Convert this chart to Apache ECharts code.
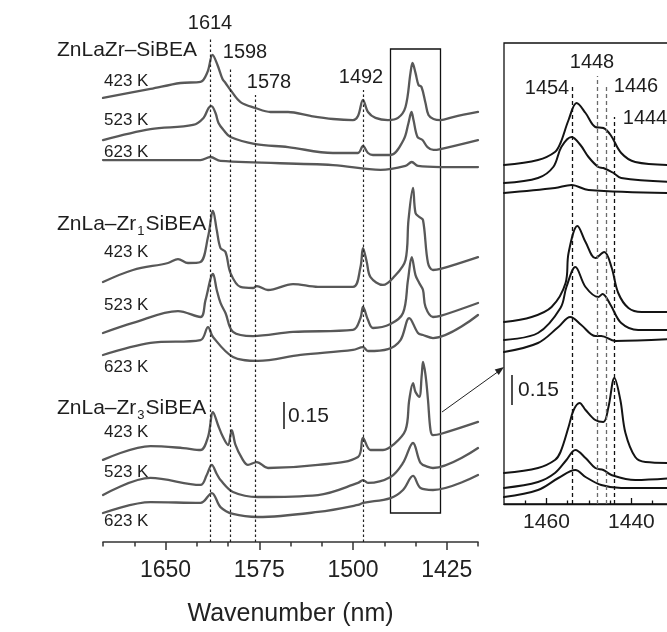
<!DOCTYPE html>
<html><head><meta charset="utf-8">
<script src="https://cdn.jsdelivr.net/npm/echarts@6/dist/echarts.min.js"></script>
<style>html,body{margin:0;padding:0;background:#fff}#c{width:667px;height:632px}</style>
</head><body><div id="c"></div>
<script>
// ---------- main panel spectra: [wavenumber, absorbance offset] ----------
const zlz423 = [[1700,2.467],[1662,2.517],[1638,2.55],[1622,2.556],[1616.4,2.611],[1612.4,2.706],[1608.4,2.65],[1604.4,2.572],[1602,2.55],[1598,2.511],[1590,2.444],[1578,2.411],[1566,2.389],[1552,2.389],[1534,2.367],[1516,2.35],[1500,2.344],[1496,2.367],[1492,2.456],[1488,2.389],[1482,2.356],[1472,2.344],[1464,2.356],[1458,2.417],[1454,2.606],[1452.4,2.661],[1450,2.606],[1447.6,2.539],[1445.2,2.528],[1442,2.439],[1439.6,2.372],[1435.6,2.35],[1430,2.344],[1420,2.361],[1400,2.389]];
const zlz523 = [[1700,2.233],[1662,2.294],[1628,2.317],[1619.6,2.356],[1615.6,2.411],[1613.2,2.422],[1610,2.383],[1607.6,2.328],[1603.6,2.289],[1598,2.25],[1578,2.211],[1552,2.194],[1516,2.161],[1496,2.161],[1492,2.2],[1488,2.161],[1484,2.15],[1470,2.15],[1459.6,2.233],[1455.6,2.328],[1453.2,2.389],[1451.6,2.344],[1448.4,2.25],[1444.4,2.233],[1440.4,2.194],[1435.6,2.178],[1430,2.183],[1400,2.233]];
const zlz623 = [[1700,2.122],[1622,2.122],[1614,2.139],[1606,2.117],[1516,2.094],[1478,2.067],[1458,2.089],[1453,2.111],[1448,2.089],[1430,2.083],[1400,2.083]];
const zl1_423 = [[1700,1.444],[1676,1.511],[1648,1.55],[1640,1.572],[1632,1.55],[1622,1.556],[1616,1.694],[1612,1.839],[1609,1.733],[1606,1.633],[1602,1.611],[1598,1.494],[1590,1.417],[1580,1.411],[1577,1.422],[1568,1.4],[1548,1.433],[1528,1.417],[1500,1.417],[1494,1.528],[1492,1.633],[1489,1.556],[1486,1.472],[1476,1.428],[1468,1.467],[1458,1.567],[1455.6,1.789],[1452,1.967],[1450,1.828],[1447,1.806],[1444,1.789],[1440,1.55],[1436,1.511],[1430,1.517],[1400,1.583]];
const zl1_523 = [[1700,1.161],[1676,1.217],[1640,1.283],[1622,1.25],[1618,1.344],[1612,1.489],[1609,1.4],[1606,1.328],[1602,1.272],[1596,1.167],[1580,1.144],[1548,1.167],[1500,1.178],[1494,1.244],[1492,1.306],[1488,1.233],[1484,1.189],[1470,1.211],[1460,1.272],[1456,1.456],[1453,1.583],[1450,1.483],[1447,1.439],[1444,1.4],[1442,1.306],[1436,1.25],[1430,1.256],[1400,1.328]];
const zl1_623 = [[1700,1.039],[1662,1.106],[1622,1.122],[1616,1.194],[1612,1.139],[1596,1.028],[1576,1.006],[1542,1.039],[1500,1.067],[1492,1.083],[1488,1.061],[1472,1.072],[1462,1.122],[1455,1.244],[1448,1.161],[1444,1.15],[1436,1.133],[1400,1.261]];
const zl3_423 = [[1700,0.456],[1662,0.533],[1636,0.522],[1622,0.511],[1616,0.583],[1612,0.722],[1608,0.65],[1604,0.583],[1600,0.539],[1597,0.622],[1594,0.539],[1589,0.467],[1584,0.428],[1577,0.444],[1568,0.411],[1528,0.428],[1496,0.472],[1492,0.578],[1486,0.511],[1476,0.511],[1468,0.539],[1458,0.622],[1455,0.789],[1452,0.883],[1450,0.833],[1447,0.806],[1445,0.928],[1444,1.0],[1442,0.928],[1440,0.789],[1438,0.622],[1436,0.594],[1430,0.6],[1400,0.667]];
const zl3_523 = [[1700,0.261],[1662,0.356],[1622,0.317],[1617,0.372],[1613,0.428],[1609,0.378],[1606,0.344],[1596,0.278],[1576,0.25],[1528,0.261],[1496,0.328],[1492,0.344],[1488,0.328],[1470,0.361],[1460,0.439],[1452,0.55],[1446,0.439],[1440,0.417],[1436,0.411],[1400,0.522]];
const zl3_623 = [[1700,0.161],[1662,0.222],[1622,0.217],[1613,0.272],[1606,0.194],[1596,0.156],[1576,0.139],[1528,0.167],[1496,0.206],[1492,0.217],[1470,0.244],[1460,0.289],[1452,0.367],[1446,0.3],[1436,0.289],[1400,0.372]];

// ---------- inset spectra (1470-1430 cm-1) ----------
const ins_zlz423 = [[1470,1.695],[1462,1.72],[1458,1.76],[1456.7,1.805],[1454.8,1.92],[1452.9,2.005],[1450.8,1.955],[1448.5,1.885],[1446.6,1.88],[1444.9,1.845],[1442.4,1.755],[1439.1,1.71],[1430,1.695]];
const ins_zlz523 = [[1470,1.605],[1462,1.63],[1458.4,1.685],[1456.5,1.785],[1454.1,1.835],[1452,1.795],[1450.1,1.735],[1447.8,1.685],[1446.6,1.68],[1444.2,1.655],[1442.4,1.63],[1430,1.61]];
const ins_zlz623 = [[1470,1.555],[1458,1.58],[1454.1,1.595],[1450.1,1.57],[1430,1.555]];
const ins_zl1_423 = [[1470,0.91],[1463.5,0.935],[1458.8,0.985],[1455.5,1.105],[1454.8,1.255],[1452.7,1.39],[1450.8,1.31],[1448.5,1.23],[1446.4,1.26],[1444.7,1.185],[1443.1,1.055],[1440.7,0.98],[1437.6,0.96],[1430,0.96]];
const ins_zl1_523 = [[1470,0.82],[1462,0.855],[1456.7,0.98],[1455.3,1.085],[1453.2,1.185],[1450.8,1.085],[1447.8,1.035],[1446.8,1.05],[1444.9,0.995],[1442.4,0.905],[1438.4,0.87],[1430,0.87]];
const ins_zl1_623 = [[1470,0.76],[1462,0.805],[1457.2,0.885],[1454.4,0.935],[1451.8,0.895],[1448.5,0.84],[1447.1,0.84],[1443.8,0.815],[1430,0.825]];
const ins_zl3_423 = [[1470,0.155],[1462,0.18],[1458,0.22],[1456.7,0.26],[1454.8,0.385],[1453.6,0.47],[1452.2,0.505],[1450.8,0.47],[1448.5,0.42],[1446.6,0.41],[1445.4,0.485],[1444,0.63],[1442.6,0.52],[1441.4,0.355],[1439.1,0.235],[1436.7,0.21],[1430,0.205]];
const ins_zl3_523 = [[1470,0.08],[1462,0.11],[1458,0.155],[1455.3,0.22],[1453.2,0.27],[1450.8,0.23],[1448.5,0.18],[1446.6,0.17],[1444.7,0.145],[1439.1,0.12],[1430,0.13]];
const ins_zl3_623 = [[1470,0.035],[1462,0.07],[1457.2,0.13],[1453.2,0.17],[1450.8,0.135],[1447.1,0.095],[1442.4,0.08],[1430,0.08]];

// ---------- axes, marks, labels ----------
const mainTickLabels = [1650, 1575, 1500, 1425];
const mainMinorTicks = [1700,1675,1625,1600,1550,1525,1475,1450,1400];
const insetTickLabels = [1460, 1440];
const insetMinorTicks = [1465,1455,1450,1445,1435];
const mainPeaks = [1614, 1598, 1578, 1492];
const mainPeakTops = [2.8, 2.639, 2.483, 2.511];
const insetPeaks = [1454, 1448, 1446, 1444];
const insetPeakTops = [2.095, 2.14, 2.09, 1.935];
const zoomBox = [1470, 1430];
const scaleBar = 0.15;
const samples = ['ZnLaZr–SiBEA', 'ZnLa–Zr1SiBEA', 'ZnLa–Zr3SiBEA'];
const temps = ['423 K', '523 K', '623 K'];

const FONT = '"Liberation Sans", Arial, Helvetica, sans-serif';
const chart = echarts.init(document.getElementById('c'), null, {renderer: 'canvas'});

function line(data, xi, color, width) {
  return {type: 'line', data: data, xAxisIndex: xi, yAxisIndex: xi, showSymbol: false,
    smooth: 0.35, silent: true, animation: false,
    lineStyle: {color: color, width: width, join: 'round', cap: 'round'}, z: 3};
}
const mainSets = [zlz423, zlz523, zlz623, zl1_423, zl1_523, zl1_623, zl3_423, zl3_523, zl3_623];
const insetSets = [ins_zlz423, ins_zlz523, ins_zlz623, ins_zl1_423, ins_zl1_523, ins_zl1_623, ins_zl3_423, ins_zl3_523, ins_zl3_623];
const series = [];
mainSets.forEach(d => series.push(line(d, 0, '#585858', 2.3)));
insetSets.forEach(d => series.push(line(d, 2, '#141414', 2)));

series[0].markLine = {symbol: 'none', silent: true, animation: false, label: {show: false},
  lineStyle: {type: [2.5, 2.5], color: '#222', width: 1.2},
  data: mainPeaks.map((p, i) => [{coord: [p, 0]}, {coord: [p, mainPeakTops[i]]}]).concat([
    [{coord: [1555.6, 0.628], lineStyle: {type: 'solid', width: 1.6, color: '#222'}}, {coord: [1555.6, 0.628 + scaleBar]}]
  ])};
series[0].markArea = {silent: true, animation: false, label: {show: false},
  itemStyle: {color: 'rgba(0,0,0,0)', borderColor: '#111', borderWidth: 1.3},
  data: [[{coord: [zoomBox[0], 2.739]}, {coord: [zoomBox[1], 0.161]}]]};
series[9].markLine = {symbol: 'none', silent: true, animation: false, label: {show: false},
  data: insetPeaks.map((p, i) => [{coord: [p, 0], lineStyle: {type: [4, 3], width: 1.3, color: (p === 1448 || p === 1446) ? '#6a6a6a' : '#111'}}, {coord: [p, insetPeakTops[i]]}]).concat([
    [{coord: [1468.2, 0.495], lineStyle: {type: 'solid', width: 1.6, color: '#222'}}, {coord: [1468.2, 0.495 + scaleBar]}]
  ])};

const fmt = v => String(v);
const option = {
  backgroundColor: '#fff',
  animation: false,
  textStyle: {fontFamily: FONT},
  grid: [
    {left: 103, top: 38, width: 375, height: 504, outerBoundsMode: 'none'},
    {left: 504, top: 43, width: 172, height: 461, show: true, borderColor: '#111', borderWidth: 1.3, backgroundColor: 'transparent', outerBoundsMode: 'none'}
  ],
  xAxis: [
    {type: 'value', gridIndex: 0, min: 1400, max: 1700, inverse: true, position: 'bottom',
      splitLine: {show: false},
      axisLine: {show: true, lineStyle: {color: '#333', width: 1.6}},
      axisTick: {show: true, customValues: mainTickLabels, length: 8, lineStyle: {color: '#333', width: 1.5}},
      axisLabel: {customValues: mainTickLabels, formatter: fmt, fontSize: 23, color: '#222', margin: 17, fontFamily: FONT},
      name: 'Wavenumber (nm)', nameLocation: 'middle', nameGap: 60,
      nameTextStyle: {fontSize: 25, color: '#222', fontFamily: FONT}},
    {type: 'value', gridIndex: 0, min: 1400, max: 1700, inverse: true, position: 'bottom', offset: 0,
      splitLine: {show: false}, axisLine: {show: false},
      axisTick: {show: true, customValues: mainMinorTicks, length: 4.5, lineStyle: {color: '#333', width: 1.5}},
      axisLabel: {show: false}},
    {type: 'value', gridIndex: 1, min: 1429.5, max: 1470, inverse: true, position: 'bottom',
      splitLine: {show: false},
      axisLine: {show: true, lineStyle: {color: '#111', width: 1.3}},
      axisTick: {show: true, inside: true, customValues: insetTickLabels, length: 6, lineStyle: {color: '#111', width: 1.3}},
      axisLabel: {customValues: insetTickLabels, formatter: fmt, fontSize: 21, color: '#222', margin: 8, fontFamily: FONT}},
    {type: 'value', gridIndex: 1, min: 1429.5, max: 1470, inverse: true, position: 'bottom', offset: 0,
      splitLine: {show: false}, axisLine: {show: false},
      axisTick: {show: true, inside: true, customValues: insetMinorTicks, length: 3.5, lineStyle: {color: '#111', width: 1.3}},
      axisLabel: {show: false}}
  ],
  yAxis: [
    {type: 'value', gridIndex: 0, min: 0, max: 2.8, show: false},
    {type: 'value', gridIndex: 0, min: 0, max: 2.8, show: false},
    {type: 'value', gridIndex: 1, min: 0, max: 2.305, show: false},
    {type: 'value', gridIndex: 1, min: 0, max: 2.305, show: false}
  ],
  series: series
};
chart.setOption(option);

function txt(x, y, text, size, align) {
  return {type: 'text', x: x, y: y, silent: true, z: 10,
    style: {text: text, fontSize: size, fontFamily: FONT, fill: '#1e1e1e', textAlign: align || 'left', textVerticalAlign: 'middle'}};
}
function sampleText(x, y, s) {
  const m = s.match(/^(ZnLa–Zr)(\d)(SiBEA)$/);
  if (!m) return txt(x, y, s, 21);
  return {type: 'text', x: x, y: y, silent: true, z: 10,
    style: {text: '{a|' + m[1] + '}{b|' + m[2] + '}{a|' + m[3] + '}', fontFamily: FONT, fill: '#1e1e1e',
      textAlign: 'left', textVerticalAlign: 'middle',
      rich: {a: {fontSize: 21, fontFamily: FONT, fill: '#1e1e1e', lineHeight: 24, verticalAlign: 'top'},
             b: {fontSize: 13, fontFamily: FONT, fill: '#1e1e1e', lineHeight: 13, padding: [15, 1, 0, 1], verticalAlign: 'bottom'}}}};
}
const sampleY = [50, 226, 410];
const tempY = [[81, 120, 152], [252, 305, 367], [432, 472, 521]];
const g = [];
samples.forEach((s, i) => {
  g.push(sampleText(57, sampleY[i], s));
  temps.forEach((t, j) => g.push(txt(104, tempY[i][j], t, 17)));
});
const mainPeakLabelPos = [[210, 23], [245, 52], [269, 82], [361, 77]];
mainPeaks.forEach((p, i) => g.push(txt(mainPeakLabelPos[i][0], mainPeakLabelPos[i][1], String(p), 20, 'center')));
const insetPeakLabelPos = [[547, 88], [592, 62], [636, 86], [645, 118]];
insetPeaks.forEach((p, i) => g.push(txt(insetPeakLabelPos[i][0], insetPeakLabelPos[i][1], String(p), 20, 'center')));
g.push(txt(288, 416, scaleBar.toFixed(2), 21));
g.push(txt(518, 390, scaleBar.toFixed(2), 21));
g.push({type: 'line', silent: true, z: 10, shape: {x1: 442, y1: 412, x2: 499, y2: 371}, style: {stroke: '#222', lineWidth: 1}});
g.push({type: 'polygon', silent: true, z: 10, shape: {points: [[504, 367], [498.7, 375.1], [494.7, 369.5]]}, style: {fill: '#222'}});
chart.setOption({graphic: g});
</script>
</body></html>
